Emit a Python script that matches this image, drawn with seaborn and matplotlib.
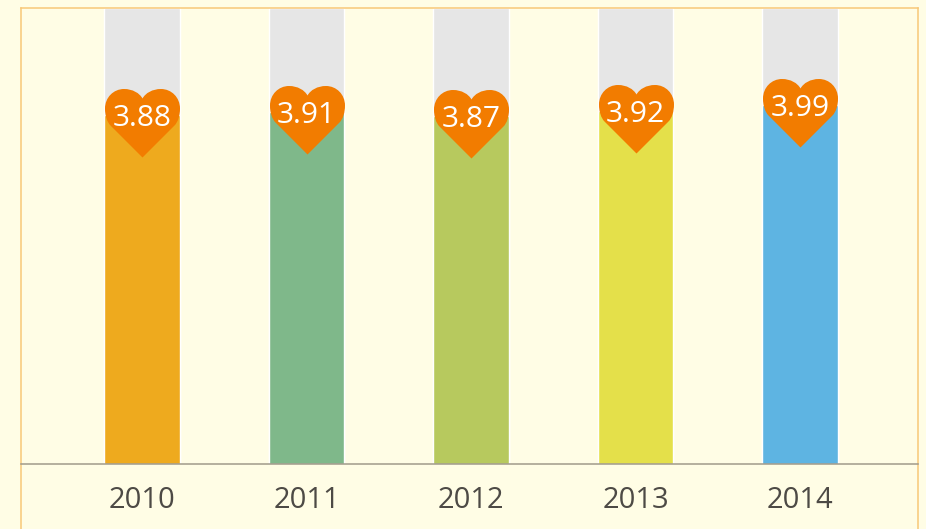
import matplotlib
matplotlib.use("Agg")
import matplotlib.pyplot as plt
from matplotlib.path import Path
import seaborn as sns

years = ["2010", "2011", "2012", "2013", "2014"]
scores = [3.88, 3.91, 3.87, 3.92, 3.99]
full_scale = [5.07, 5.07, 5.07, 5.07, 5.07]
bar_colors = ["#EEAA1E", "#7FB88A", "#B7C95E", "#E4E04A", "#5EB4E2"]
BG = "#FFFDE5"

sns.set_theme(style="white")
plt.rcParams["font.family"] = ["Open Sans", "DejaVu Sans"]

W, H = 926, 529
fig = plt.figure(figsize=(W / 100, H / 100), dpi=100, facecolor=BG)
ax = fig.add_axes([21 / W, 1 - 464 / H, (918 - 21) / W, (464 - 8) / H], facecolor=BG)

sns.barplot(x=years, y=full_scale, color="#E6E6E6", saturation=1, width=0.46, ax=ax, zorder=1)
sns.barplot(x=years, y=scores, hue=years, palette=bar_colors, saturation=1, width=0.46,
            legend=False, dodge=False, ax=ax, zorder=2)

ax.set_xlim(-0.736, 4.717)
ax.set_ylim(0, 5.07)
ax.set_xlabel("")
ax.set_ylabel("")
ax.set_yticks([])
ax.tick_params(axis="x", length=0, pad=16, labelsize=21, labelcolor="#4D4A45")

# heart marker, outline in pixels relative to the label centre
v = [(0, 17), (3, 22.5), (10, 26.5), (18.5, 26.5), (29, 26.5), (37.5, 18), (37.5, 7), (37.5, 0), (35.5, -6.5), (32, -10),
     (0, -42), (-32, -10), (-35.5, -6.5), (-37.5, 0), (-37.5, 7), (-37.5, 18), (-29, 26.5), (-18.5, 26.5),
     (-10, 26.5), (-3, 22.5), (0, 17), (0, 17)]
c = [Path.MOVETO] + [Path.CURVE4] * 9 + [Path.LINETO, Path.LINETO] + [Path.CURVE4] * 9 + [Path.CLOSEPOLY]
heart = Path(v, c)
ax.plot(years, scores, linestyle="none", marker=heart, markersize=84 * 0.72,
        markerfacecolor="#F27C00", markeredgewidth=0, zorder=3, clip_on=False)
for i, s in enumerate(scores):
    ax.text(i, s, f"{s:.2f}", color="white", fontsize=21.5, ha="center", va="center_baseline", zorder=4)

for side in ["left", "right", "top"]:
    ax.spines[side].set_visible(True)
    ax.spines[side].set_color("#F8C878")
    ax.spines[side].set_linewidth(1.1)
ax.spines["left"].set_bounds(-65 / 90, 5.07)
ax.spines["right"].set_bounds(-65 / 90, 5.07)
ax.spines["bottom"].set_visible(True)
ax.spines["bottom"].set_color("#A09A8A")
ax.spines["bottom"].set_linewidth(1.1)

fig.savefig("out.png", dpi=100, facecolor=BG)
